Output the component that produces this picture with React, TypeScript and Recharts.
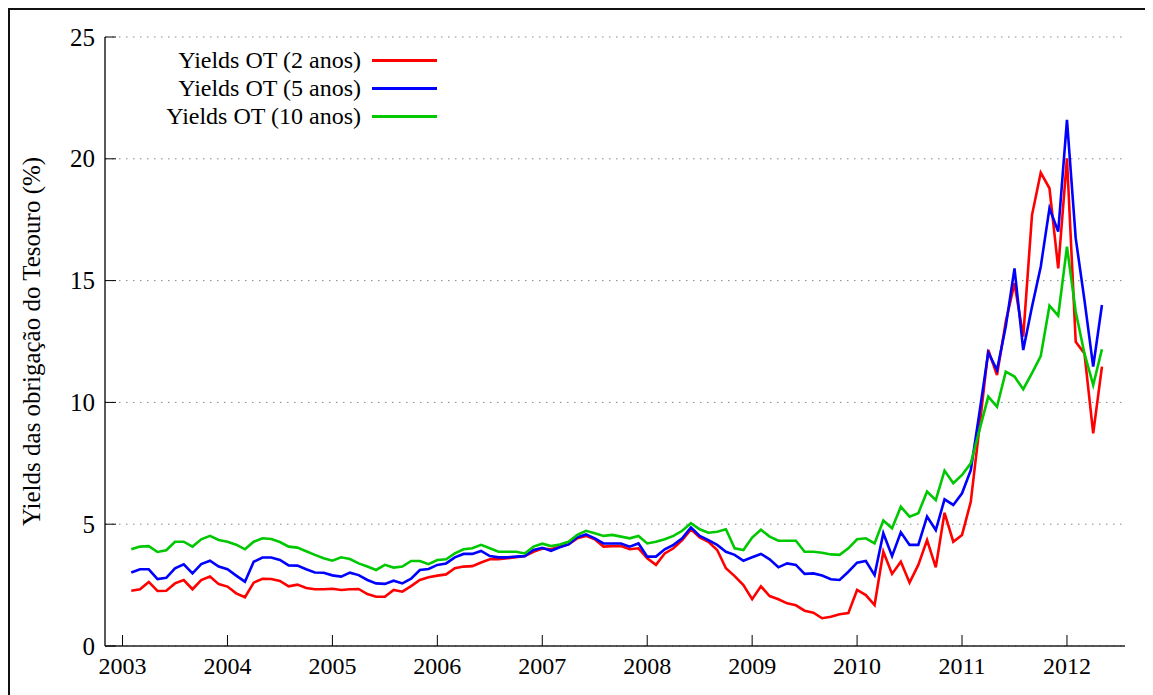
import React from "react";
import {
  LineChart,
  Line,
  XAxis,
  YAxis,
  CartesianGrid,
  Legend,
} from "recharts";

// monthly yields, Jan 2003 .. Apr 2012 (%)
const OT_2Y = [
  2.27, 2.33, 2.63, 2.26, 2.27, 2.57, 2.71, 2.33, 2.71, 2.85, 2.54, 2.44,
  2.16, 2.0, 2.6, 2.76, 2.75, 2.67, 2.45, 2.52, 2.38, 2.33, 2.33, 2.35,
  2.3, 2.33, 2.34, 2.13, 2.02, 2.02, 2.3, 2.23, 2.46, 2.71, 2.82, 2.89,
  2.94, 3.19, 3.26, 3.28, 3.43, 3.56, 3.56, 3.6, 3.64, 3.69, 3.87, 4.0,
  3.97, 4.08, 4.17, 4.42, 4.52, 4.38, 4.08, 4.1, 4.1, 3.97, 4.01, 3.6,
  3.33, 3.8, 4.01, 4.35, 4.79, 4.46, 4.28, 3.94, 3.19, 2.87, 2.5, 1.92,
  2.45, 2.05, 1.92, 1.75, 1.67, 1.45, 1.37, 1.14, 1.2, 1.3, 1.35, 2.3,
  2.09, 1.68, 3.87, 2.96, 3.46, 2.6, 3.33, 4.35, 3.23, 5.47, 4.28, 4.56,
  5.92, 9.0, 12.15, 11.12, 13.31, 14.89, 12.7, 17.69, 19.43, 18.79, 15.5, 20.02,
  12.49, 12.01, 8.73, 11.47,
];

const OT_5Y = [
  3.02, 3.15, 3.15, 2.75, 2.8, 3.19, 3.35, 2.98, 3.36, 3.5, 3.26, 3.15,
  2.89, 2.64, 3.46, 3.63, 3.63, 3.53, 3.31, 3.3, 3.15, 3.02, 3.01, 2.9,
  2.85, 3.01, 2.91, 2.71, 2.57, 2.55, 2.68, 2.57, 2.76, 3.12, 3.16, 3.33,
  3.39, 3.64, 3.78, 3.78, 3.9, 3.69, 3.64, 3.64, 3.67, 3.69, 3.94, 4.03,
  3.91, 4.05, 4.17, 4.46, 4.58, 4.42, 4.21, 4.21, 4.21, 4.08, 4.21, 3.67,
  3.67, 3.97, 4.15, 4.42, 4.87, 4.52, 4.35, 4.15, 3.87, 3.74, 3.5, 3.64,
  3.78, 3.56, 3.23, 3.39, 3.33, 2.96, 2.98, 2.89, 2.74, 2.71, 3.05, 3.42,
  3.49, 2.91, 4.63, 3.69, 4.67, 4.15, 4.15, 5.31, 4.76, 6.02, 5.79, 6.27,
  7.22, 9.6, 12.05, 11.33, 13.11, 15.5, 12.15, 13.93, 15.57, 17.97, 17.01, 21.6,
  16.74, 14.2, 11.47, 14.0,
];

const OT_10Y = [
  3.97, 4.08, 4.1, 3.86, 3.93, 4.28, 4.28, 4.08, 4.38, 4.52, 4.35, 4.28,
  4.16, 3.97, 4.28, 4.42, 4.39, 4.27, 4.08, 4.04, 3.89, 3.74, 3.6, 3.5,
  3.64, 3.57, 3.39, 3.26, 3.12, 3.33, 3.22, 3.26, 3.49, 3.49, 3.36, 3.53,
  3.56, 3.8, 3.97, 4.01, 4.15, 4.01, 3.87, 3.87, 3.87, 3.8, 4.08, 4.2,
  4.1, 4.17, 4.28, 4.56, 4.73, 4.63, 4.52, 4.56, 4.49, 4.42, 4.52, 4.21,
  4.28, 4.38, 4.52, 4.73, 5.04, 4.79, 4.65, 4.69, 4.79, 4.01, 3.94, 4.45,
  4.77, 4.49, 4.32, 4.32, 4.32, 3.87, 3.87, 3.83, 3.76, 3.74, 4.01, 4.38,
  4.42, 4.21, 5.15, 4.83, 5.72, 5.31, 5.45, 6.34, 5.99, 7.2, 6.68, 7.02,
  7.5, 8.87, 10.24, 9.82, 11.26, 11.06, 10.54, 11.2, 11.9, 13.97, 13.56, 16.39,
  13.72, 12.01, 10.71, 12.18,
];

const YEAR_TICKS = [2003, 2004, 2005, 2006, 2007, 2008, 2009, 2010, 2011, 2012];
const Y_TICKS = [0, 5, 10, 15, 20, 25];

const SERIES = [
  { key: "ot2", label: "Yields OT (2 anos)", color: "#ff0000", values: OT_2Y },
  { key: "ot5", label: "Yields OT (5 anos)", color: "#0000ff", values: OT_5Y },
  { key: "ot10", label: "Yields OT (10 anos)", color: "#00c800", values: OT_10Y },
];

// month i plotted at end of month (gnuplot-style time axis)
const data = OT_2Y.map((_, i) => ({
  t: 2003 + (i + 1) / 12,
  ot2: OT_2Y[i],
  ot5: OT_5Y[i],
  ot10: OT_10Y[i],
}));

const FONT = "'Liberation Serif', 'Times New Roman', serif";
const TICK = 11;

const BottomTick = ({ x, y, payload }: any) => (
  <g>
    <line x1={x} x2={x} y1={y} y2={y - TICK} stroke="#000" strokeWidth={1} />
    <text x={x} y={y + 20} textAnchor="middle" dominantBaseline="central"
      fontFamily={FONT} fontSize={24} fill="#000">
      {payload.value}
    </text>
  </g>
);

const TopTick = ({ x, y }: any) => (
  <line x1={x} x2={x} y1={y} y2={y + TICK} stroke="#000" strokeWidth={1} />
);

const LeftTick = ({ x, y, payload }: any) => (
  <g>
    <line x1={x} x2={x + TICK} y1={y} y2={y} stroke="#000" strokeWidth={1} />
    <text x={x - 10} y={y} textAnchor="end" dominantBaseline="central"
      fontFamily={FONT} fontSize={25} fill="#000">
      {payload.value}
    </text>
  </g>
);

const RightTick = ({ x, y }: any) => (
  <line x1={x} x2={x - TICK} y1={y} y2={y} stroke="#000" strokeWidth={1} />
);

function LegendBox() {
  return (
    <div style={{ fontFamily: FONT, fontSize: 24, color: "#000" }}>
      {SERIES.map((s) => (
        <div key={s.key} style={{ display: "flex", alignItems: "center", height: 27.7 }}>
          <span style={{ width: 351, textAlign: "right", whiteSpace: "nowrap" }}>{s.label}</span>
          <span style={{ width: 65, height: 3, marginLeft: 11, background: s.color }} />
        </div>
      ))}
    </div>
  );
}

export default function App() {
  const axisLine = { stroke: "#222", strokeWidth: 1.5 };
  return (
    <div
      style={{
        width: 1141,
        height: 687,
        border: "2px solid #111",
        borderBottom: "none",
        boxSizing: "border-box",
        overflow: "hidden",
        background: "#fff",
      }}
    >
      <LineChart
        width={1137}
        height={685}
        data={data}
        margin={{ top: 27, right: 22, bottom: 9, left: 35 }}
      >
        <CartesianGrid
          xAxisId="bottom"
          yAxisId="left"
          vertical={false}
          stroke="#888"
          strokeDasharray="1.5 5.5"
        />
        <XAxis
          xAxisId="bottom"
          dataKey="t"
          type="number"
          domain={[2002.833, 2012.553]}
          ticks={YEAR_TICKS}
          allowDataOverflow
          height={40}
          tickSize={0}
          tickMargin={0}
          tickLine={false}
          axisLine={axisLine}
          tick={<BottomTick />}
          interval={0}
        />
        <XAxis
          xAxisId="top"
          orientation="top"
          dataKey="t"
          type="number"
          domain={[2002.833, 2012.553]}
          ticks={YEAR_TICKS}
          allowDataOverflow
          height={0}
          tickSize={0}
          tickMargin={0}
          tickLine={false}
          axisLine={axisLine}
          tick={<TopTick />}
          interval={0}
        />
        <YAxis
          yAxisId="left"
          type="number"
          domain={[0, 25]}
          ticks={Y_TICKS}
          width={60}
          tickSize={0}
          tickMargin={0}
          tickLine={false}
          axisLine={axisLine}
          tick={<LeftTick />}
          interval={0}
          label={{
            content: () => (
              <text
                x={21}
                y={331.5}
                transform="rotate(-90 21 331.5)"
                textAnchor="middle"
                dominantBaseline="central"
                fontFamily={FONT}
                fontSize={25}
                fill="#000"
              >
                Yields das obrigação do Tesouro (%)
              </text>
            ),
          }}
        />
        <YAxis
          yAxisId="right"
          orientation="right"
          type="number"
          domain={[0, 25]}
          ticks={Y_TICKS}
          width={0}
          tickSize={0}
          tickMargin={0}
          tickLine={false}
          axisLine={axisLine}
          tick={<RightTick />}
          interval={0}
        />
        <Legend
          layout="horizontal"
          align="center"
          verticalAlign="middle"
          content={() => <LegendBox />}
          wrapperStyle={{ left: 0, top: 36.85, width: 440, height: 84 }}
        />
        {SERIES.map((s) => (
          <Line
            key={s.key}
            xAxisId="bottom"
            yAxisId="left"
            type="linear"
            dataKey={s.key}
            name={s.label}
            stroke={s.color}
            strokeWidth={2.6}
            dot={false}
            activeDot={false}
            isAnimationActive={false}
          />
        ))}
      </LineChart>
    </div>
  );
}
